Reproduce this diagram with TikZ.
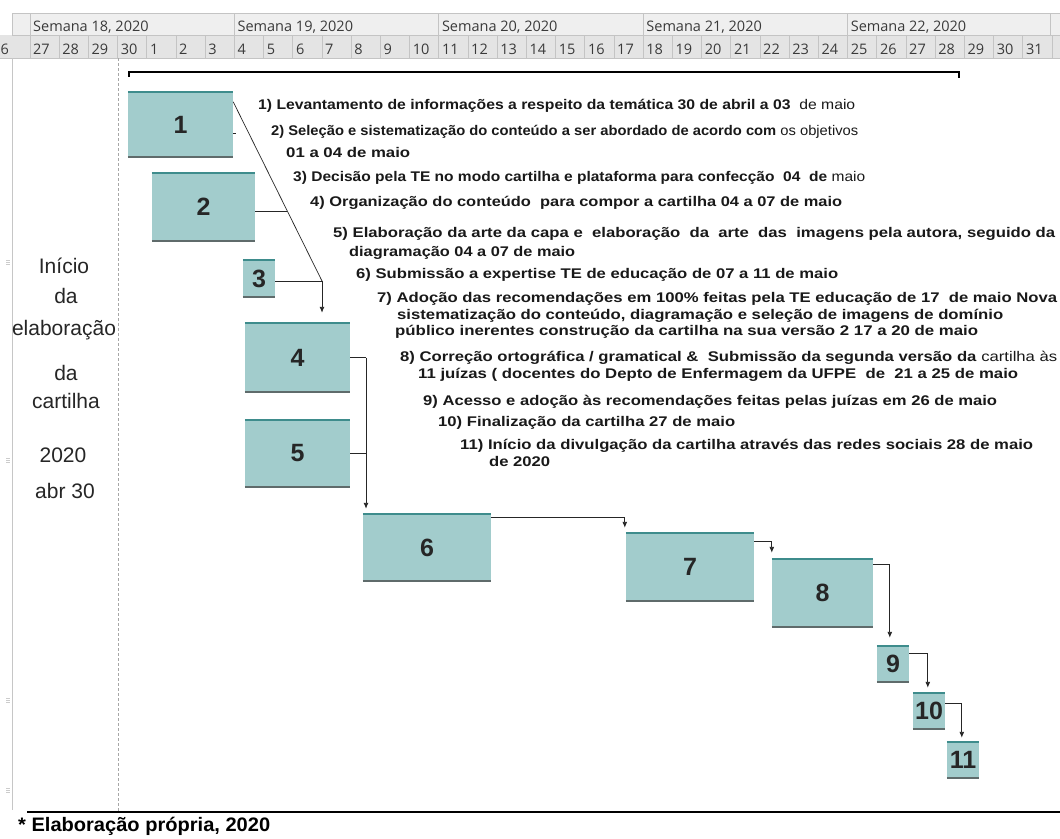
\documentclass[tikz,border=0pt]{standalone}
\usepackage{fontspec}
\usepackage{graphicx}
\setmainfont{Liberation Sans}
\newfontfamily\hdrfont{Open Sans}
\usetikzlibrary{arrows.meta,calc}
\definecolor{boxfill}{HTML}{A2CCCC}
\definecolor{boxtop}{HTML}{3E8C8C}
\definecolor{boxbot}{HTML}{5F6B6B}
\definecolor{hdrbg}{HTML}{EFEFEF}
\definecolor{hdrline}{HTML}{C4C4C4}
\definecolor{hdrtext}{HTML}{3A3A3A}
\newcommand{\fitw}[2]{\resizebox{#1pt}{\height}{#2}}
\begin{document}
\begin{tikzpicture}[x=1pt,y=-1pt,
  gbox/.style={draw=none, fill=boxfill, inner sep=0, font=\fontsize{25}{25}\selectfont\bfseries, text=black!85},
  conn/.style={draw=black!85, line width=0.9pt},
  arr/.style={conn, -{Latex[length=6pt,width=5pt]}},
  itm/.style={anchor=base west, inner sep=0, font=\fontsize{14}{16}\selectfont\bfseries, text=black!90},
  side/.style={anchor=base, inner sep=0, font=\fontsize{21}{21}\selectfont, text=black!85},
  hw/.style={anchor=base west, inner sep=0, font=\hdrfont\fontsize{14.5}{15}\selectfont, text=hdrtext},
  hline/.style={draw=hdrline, line width=0.8pt},
]
\useasboundingbox (0,0) rectangle (1060,838);
\fill[white] (0,0) rectangle (1060,838);

% ---------- header ----------
\fill[hdrbg] (12,13) rectangle (1060,35);
\fill[hdrbg!90!gray] (0,35) rectangle (1060,58);
\draw[hline] (12,13) -- (1060,13);
\draw[hline] (12,35) -- (1060,35);
\draw[hline] (0,58) -- (1060,58);
\draw[hline] (12,13) -- (12,35);
\foreach \k in {0,...,4} {
  \draw[hline] ({30+7*\k*29.2},13) -- ({30+7*\k*29.2},35);
  \node[hw] (w\k) at ({33+7*\k*29.2},31) {Semana \the\numexpr18+\k\relax, 2020};
}
\draw[hline] (1050,13) -- (1050,35);
\node[hw] (d6) at (0.5,54) {6};
\foreach \d [count=\i from 0] in {27,28,29,30,1,2,3,4,5,6,7,8,9,10,11,12,13,14,15,16,17,18,19,20,21,22,23,24,25,26,27,28,29,30,31} {
  \draw[hline] ({30+\i*29.2},35) -- ({30+\i*29.2},58);
  \node[hw] (d\i) at ({33+\i*29.2},54) {\d};
}
\draw[hline] (1052,35) -- (1052,58);

% ---------- frame lines ----------
\draw[gray!45, line width=1pt] (12,58) -- (12,810);
\foreach \yy in {262,460,700,790} {
  \draw[gray!40, line width=0.5pt] (6,\yy-2) -- (10,\yy-2) (6,\yy) -- (10,\yy) (6,\yy+2) -- (10,\yy+2);
}
\draw[gray!70, dash pattern=on 3pt off 2pt, line width=0.8pt] (118,58) -- (118,811);
\draw[line width=1.3pt] (27,812) -- (1060,812);

% ---------- bracket ----------
\draw[line width=2.2pt] (128,72) -- (960,72);
\draw[line width=1.6pt] (128.8,72) -- (128.8,77);
\draw[line width=1.6pt] (959.2,72) -- (959.2,78);

% ---------- left text ----------
\node[side] (s1) at (64,273) {Início};
\node[side] (s2) at (66,303) {da};
\node[side] (s3) at (64,335) {elaboração};
\node[side] (s4) at (66,380) {da};
\node[side] (s5) at (66,408) {cartilha};
\node[side] (s6) at (63,462) {2020};
\node[side] (s7) at (65,498) {abr 30};

% ---------- boxes ----------
\node[gbox, minimum width=105pt, minimum height=65pt] (b1) at (180.5,124.5) {1};
\node[gbox, minimum width=103pt, minimum height=68pt] (b2) at (203.5,207) {2};
\node[gbox, minimum width=32pt, minimum height=37pt] (b3) at (259,278.5) {3};
\node[gbox, minimum width=105pt, minimum height=69pt] (b4) at (297.5,357.5) {4};
\node[gbox, minimum width=105pt, minimum height=67pt] (b5) at (297.5,453.5) {5};
\node[gbox, minimum width=128pt, minimum height=67pt] (b6) at (427,547.5) {6};
\node[gbox, minimum width=128pt, minimum height=68pt] (b7) at (690,567) {7};
\node[gbox, minimum width=101pt, minimum height=68pt] (b8) at (822.5,593) {8};
\node[gbox, minimum width=32pt, minimum height=36pt] (b9) at (893,664) {9};
\node[gbox, minimum width=32pt, minimum height=36pt] (b10) at (929,711) {10};
\node[gbox, minimum width=32pt, minimum height=36pt] (b11) at (963,760) {11};
\foreach \b in {b1,b2,b3,b4,b5,b6,b7,b8,b9,b10,b11} {
  \draw[boxtop, line width=2pt] (\b.north west) -- (\b.north east);
  \draw[boxbot, line width=2pt] (\b.south west) -- (\b.south east);
}

% ---------- connectors ----------
\coordinate (j1) at (322,281);
\coordinate (j2) at (287,211);
\coordinate (j4) at (366,357.5);
\draw[conn, line width=0.7pt] ([yshift=-10pt]b1.north east) -- (j1);
\draw[conn] ([yshift=-9pt]b1.east) -- ++(3,0);
\draw[conn] ([yshift=-4pt]b2.east) -- (j2);
\draw[conn] (b3.east |- j1) -- (j1);
\draw[arr] (j1) -- ([yshift=10pt]j1 |- b4.north);
\draw[conn] (b4.east) -- (j4);
\draw[conn] (b5.east) -- (b5.east -| j4);
\draw[arr] (j4) -- ([yshift=5pt]j4 |- b6.north);
\draw[arr] ([yshift=-4pt]b6.north east) -| ([xshift=-1pt,yshift=5pt]b7.north west);
\draw[arr] ([yshift=-9pt]b7.north east) -| ([yshift=6pt]b8.north west);
\draw[arr] ([yshift=-6pt]b8.north east) -| ([xshift=13pt,yshift=8pt]b9.north west);
\draw[arr] ([yshift=-8pt]b9.north east) -| ([xshift=15pt,yshift=5pt]b10.north west);
\draw[arr] ([yshift=-11pt]b10.north east) -| ([xshift=15pt,yshift=4pt]b11.north west);

% ---------- item texts ----------
\node[itm] (t1) at (258,109) {\fitw{597}{1) Levantamento de informações a respeito da temática 30 de abril a 03\ \ \textmd{de maio}}};
\node[itm] (t2a) at (271,135) {\fitw{587}{2) Seleção e sistematização do conteúdo a ser abordado de acordo com \textmd{os objetivos}}};
\node[itm] (t2b) at (286,157) {\fitw{124}{01 a 04 de maio}};
\node[itm] (t3) at (293,181) {\fitw{572}{3) Decisão pela TE no modo cartilha e plataforma para confecção\ \ 04\ \ de \textmd{maio}}};
\node[itm] (t4) at (310,206) {\fitw{532}{4) Organização do conteúdo\ \ para compor a cartilha 04 a 07 de maio}};
\node[itm] (t5a) at (333,237) {\fitw{722}{5) Elaboração da arte da capa e\ \ elaboração\ \ da\ \ arte\ \ das\ \ imagens pela autora, seguido da}};
\node[itm] (t5b) at (349,256) {\fitw{226}{diagramação 04 a 07 de maio}};
\node[itm] (t6) at (356,278) {\fitw{482}{6) Submissão a expertise TE de educação de 07 a 11 de maio}};
\node[itm] (t7a) at (377,302) {\fitw{680}{7) Adoção das recomendações em 100\% feitas pela TE educação de 17\ \ de maio Nova}};
\node[itm] (t7b) at (397,319) {\fitw{606}{sistematização do conteúdo, diagramação e seleção de imagens de domínio}};
\node[itm] (t7c) at (395,335) {\fitw{583}{público inerentes construção da cartilha na sua versão 2 17 a 20 de maio}};
\node[itm] (t8a) at (400,361) {\fitw{657}{8) Correção ortográfica / gramatical \&\ \ Submissão da segunda versão da \textmd{cartilha às}}};
\node[itm] (t8b) at (418,378) {\fitw{600}{11 juízas ( docentes do Depto de Enfermagem da UFPE\ \ de\ \ 21 a 25 de maio}};
\node[itm] (t9) at (423,405) {\fitw{574}{9) Acesso e adoção às recomendações feitas pelas juízas em 26 de maio}};
\node[itm] (t10) at (438,426) {\fitw{297}{10) Finalização da cartilha 27 de maio}};
\node[itm] (t11a) at (460,449) {\fitw{573}{11) Início da divulgação da cartilha através das redes sociais 28 de maio}};
\node[itm] (t11b) at (489,466) {\fitw{61}{de 2020}};

% ---------- footer ----------
\node[anchor=base west, inner sep=0, font=\fontsize{19.5}{20}\selectfont\bfseries] (foot) at (18,831) {\fitw{252}{* Elaboração própria, 2020}};
\end{tikzpicture}
\end{document}
